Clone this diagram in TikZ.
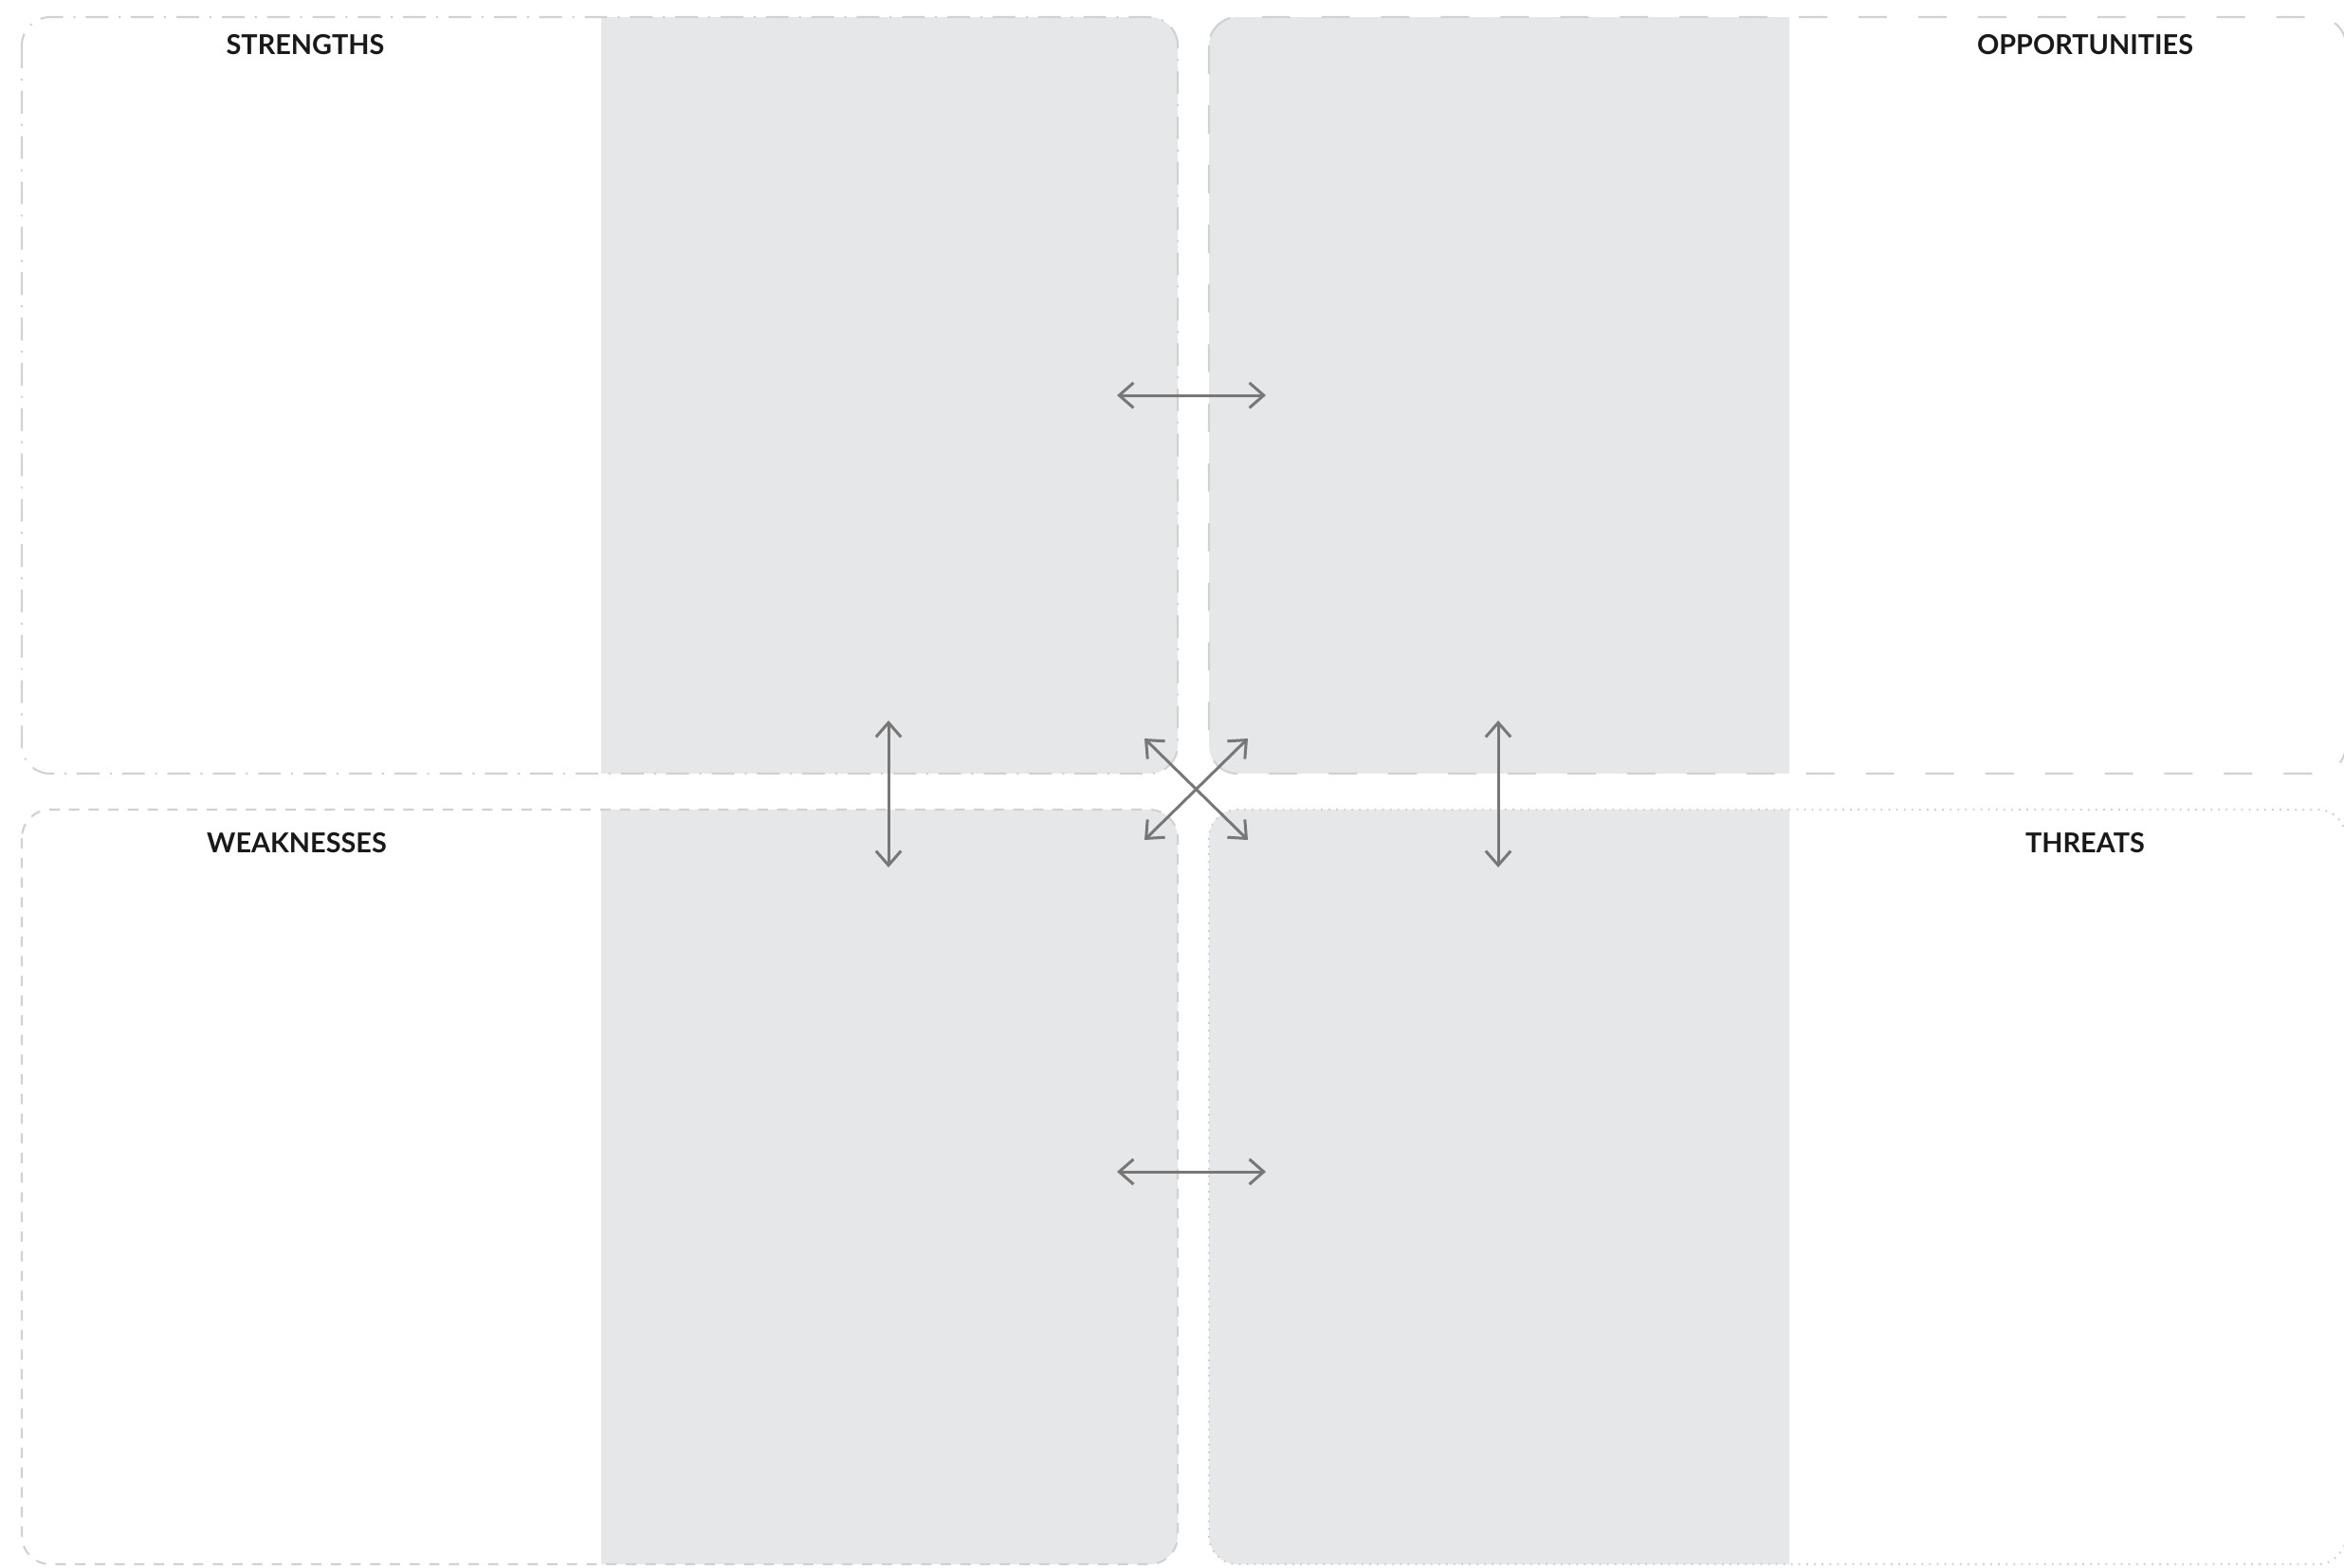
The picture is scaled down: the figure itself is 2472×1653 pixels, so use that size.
\documentclass[tikz,border=0pt]{standalone}
\usepackage{fontspec}
\setmainfont{Lato}
\usetikzlibrary{arrows.meta}
\definecolor{panelgray}{HTML}{E6E7E8}
\definecolor{rimgray}{HTML}{CFD1D2}
\definecolor{arrowgray}{HTML}{777777}

\begin{document}
\begin{tikzpicture}[x = .01cm, y = -.01cm]
    \tikzset{title/.style = {font = \bfseries\fontsize{8.2}{9}\selectfont, text = black!90}}
    \tikzset{rimline/.style = {draw = rimgray, line width = .6pt, rounded corners = .3cm}}
    \tikzset{duplex/.style = {draw = arrowgray, line width = .85pt,
        {Straight Barb[length = 4.3pt, width = 7.5pt]}-{Straight Barb[length = 4.3pt, width = 7.5pt]}}}
    \useasboundingbox (0,0) rectangle (2472,1653);
    % grey halves of the four boxes
    \begin{scope}
        \clip (634,0) rectangle (1887,1653);
        \fill[panelgray, rounded corners = .3cm] (23,18) rectangle (1242,816);
        \fill[panelgray, rounded corners = .3cm] (1275,18) rectangle (2474,816);
        \fill[panelgray, rounded corners = .3cm] (23,854) rectangle (1242,1650);
        \fill[panelgray, rounded corners = .3cm] (1275,854) rectangle (2474,1650);
    \end{scope}
    % box outlines
    \draw[rimline, dash pattern = on 6.8pt off 3.1pt on .6pt off 3.1pt] (23,18) rectangle (1242,816); %S
    \draw[rimline, dash pattern = on 8.5pt off 9.4pt] (1275,18) rectangle (2474,816); %O
    \draw[rimline, dash pattern = on 3.1pt off 2.8pt] (23,854) rectangle (1242,1650); %W
    \draw[rimline, dash pattern = on .5pt off 1.8pt] (1275,854) rectangle (2474,1650); %T
    % titles
    \node[title] (strengths) at (322,47) {STRENGTHS};
    \node[title] (opportunities) at (2199,47) {OPPORTUNITIES};
    \node[title] (weaknesses) at (313,889) {WEAKNESSES};
    \node[title] (threats) at (2199,889) {THREATS};
    % arrow ends
    \coordinate (so-w) at (1178,417);
    \coordinate (so-e) at (1335,417);
    \coordinate (wt-w) at (1178,1236);
    \coordinate (wt-e) at (1335,1236);
    \coordinate (sw-n) at (937,760);
    \coordinate (sw-s) at (937,915);
    \coordinate (ot-n) at (1580,760);
    \coordinate (ot-s) at (1580,915);
    \coordinate (x-nw) at (1207,779);
    \coordinate (x-ne) at (1316,779);
    \coordinate (x-sw) at (1207,886);
    \coordinate (x-se) at (1316,886);
    \draw[duplex] (so-w) -- (so-e);
    \draw[duplex] (wt-w) -- (wt-e);
    \draw[duplex] (sw-n) -- (sw-s);
    \draw[duplex] (ot-n) -- (ot-s);
    \draw[duplex] (x-nw) -- (x-se);
    \draw[duplex] (x-ne) -- (x-sw);
\end{tikzpicture}
\end{document}
